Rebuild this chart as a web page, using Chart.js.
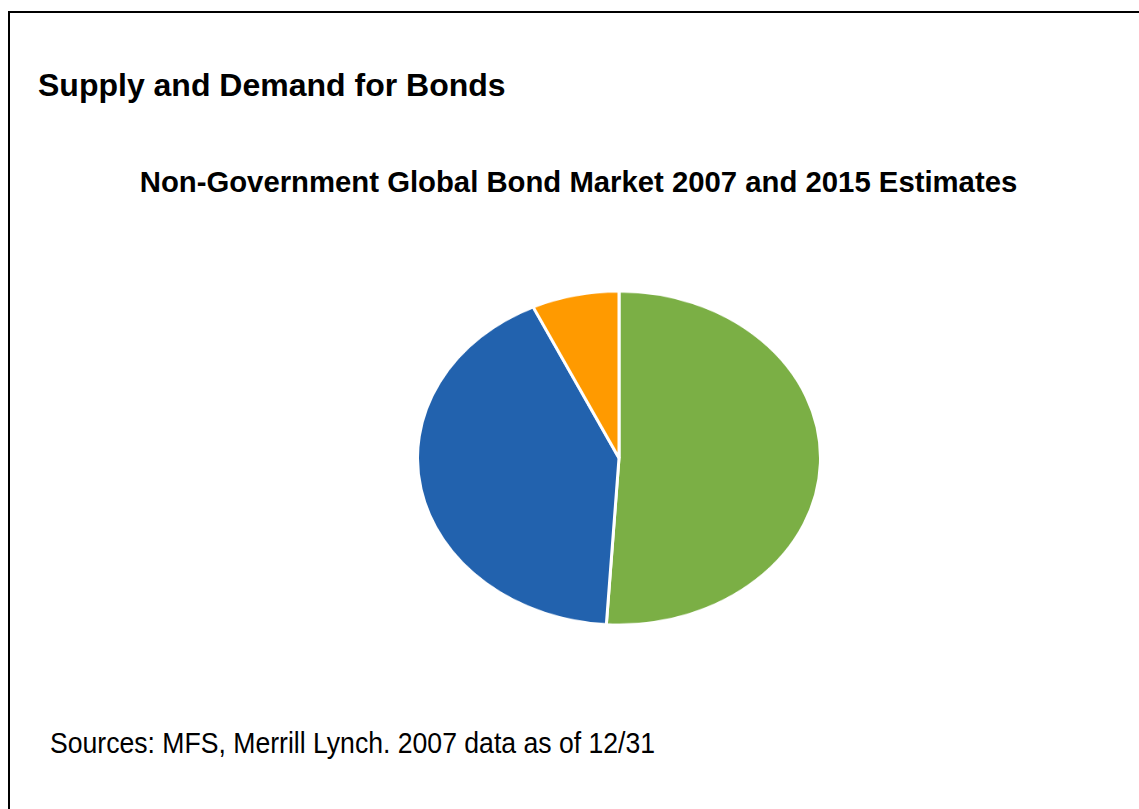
<!DOCTYPE html>
<html>
<head>
<meta charset="utf-8">
<script src="https://cdn.jsdelivr.net/npm/chart.js@4"></script>
<style>
  html, body { margin: 0; padding: 0; background: #fff; }
  body { width: 1139px; height: 809px; position: relative; overflow: hidden; font-family: "Liberation Sans", Arial, sans-serif; }
  .frame { position: absolute; left: 8px; top: 11px; width: 1200px; height: 900px; border-left: 2px solid #000; border-top: 2px solid #000; }
  .txt { position: absolute; line-height: 1; white-space: nowrap; color: #000; }
  #title { left: 38px; top: 69px; font-size: 32px; font-weight: bold; }
  #subtitle { left: 0; width: 1157px; text-align: center; top: 167px; font-size: 29.3px; font-weight: bold; }
  #source { left: 50px; top: 729px; font-size: 29px; transform: scaleX(0.917); transform-origin: left top; }
  #pie { position: absolute; left: 416px; top: 290px; }
</style>
</head>
<body>
<div class="frame"></div>
<div class="txt" id="title"></div>
<div class="txt" id="subtitle"></div>
<div class="txt" id="source"></div>
<canvas id="pie" width="406" height="406" style="width:406px;height:336px"></canvas>
<script>
// Chart text
const pageTitle = "Supply and Demand for Bonds";
const chartTitle = "Non-Government Global Bond Market 2007 and 2015 Estimates";
const sourceNote = "Sources: MFS, Merrill Lynch. 2007 data as of 12/31";

// Pie slices, clockwise from 12 o'clock (percent of market)
const segments = ["Segment 1", "Segment 2", "Segment 3"];
const shares = [51, 42, 7];
const sliceColors = ["#7BAF45", "#2262AE", "#FF9A00"];

document.getElementById("title").textContent = pageTitle;
document.getElementById("subtitle").textContent = chartTitle;
document.getElementById("source").textContent = sourceNote;

// Square drawing surface, stretched by CSS into the flattened ellipse
new Chart(document.getElementById("pie"), {
  type: "pie",
  data: {
    labels: segments,
    datasets: [{
      data: shares,
      backgroundColor: sliceColors,
      borderColor: "#ffffff",
      borderWidth: 3
    }]
  },
  options: {
    responsive: false,
    animation: false,
    layout: { padding: 0 },
    plugins: {
      legend: { display: false },
      tooltip: { enabled: false },
      title: { display: false }
    }
  }
});
</script>
</body>
</html>
